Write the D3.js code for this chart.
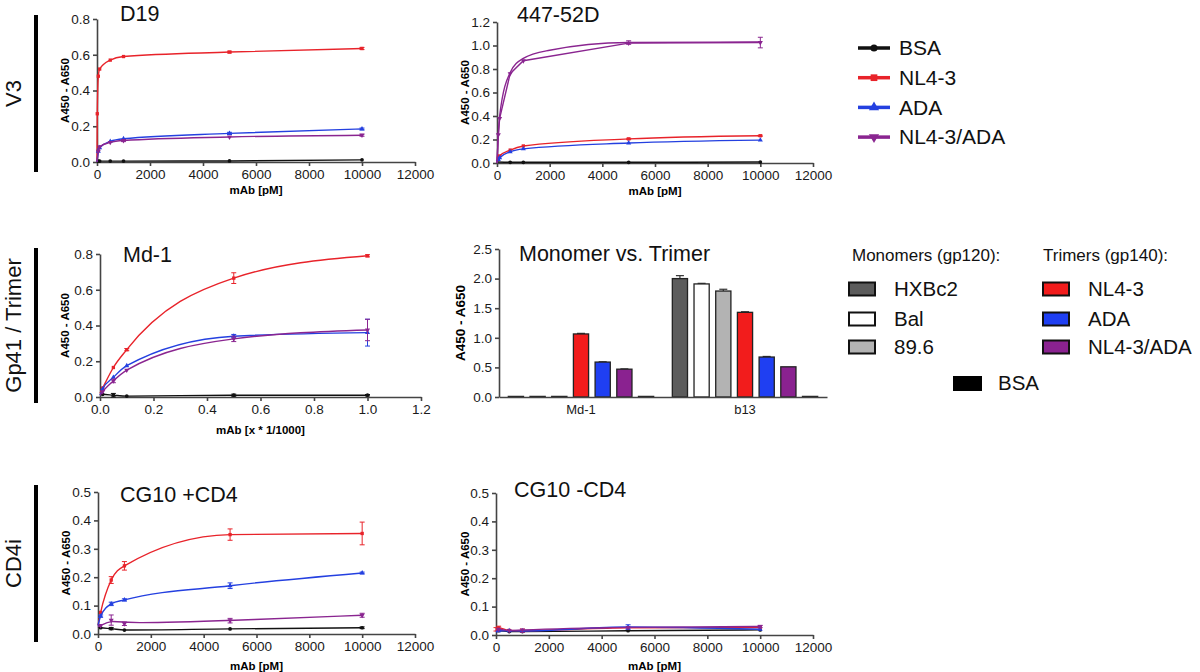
<!DOCTYPE html>
<html>
<head>
<meta charset="utf-8">
<script src="https://cdn.jsdelivr.net/npm/d3@7"></script>
<style>
  body { margin: 0; background: #fff; }
  svg { font-family: "Liberation Sans", Arial, sans-serif; }
</style>
</head>
<body>
<svg id="chart" width="1200" height="672"></svg>
<script>
// ---- data ----
const seriesNames = ["BSA", "NL4-3", "ADA", "NL4-3/ADA"];
const seriesColors = ["#111111", "#e8232a", "#2440e0", "#8a2590"];
const pmTicks = [0, 2000, 4000, 6000, 8000, 10000, 12000];
const mdTicks = [0, 0.2, 0.4, 0.6, 0.8, 1.0, 1.2];

// [x, y, err]
const d19Bsa = [[0, 0.004, 0], [50, 0.005, 0], [100, 0.005, 0], [500, 0.005, 0], [1000, 0.005, 0], [5000, 0.006, 0], [10000, 0.012, 0]];
const d19Nl43 = [[0, 0, 0], [10, 0.27, 0], [50, 0.48, 0], [100, 0.52, 0], [500, 0.57, 0], [1000, 0.59, 0], [5000, 0.615, 0.005], [10000, 0.635, 0.006]];
const d19Ada = [[0, 0, 0], [50, 0.06, 0], [100, 0.08, 0], [500, 0.115, 0], [1000, 0.13, 0], [5000, 0.16, 0.006], [10000, 0.185, 0.005]];
const d19Mix = [[0, 0, 0], [50, 0.06, 0], [100, 0.085, 0], [500, 0.11, 0], [1000, 0.12, 0.006], [5000, 0.14, 0], [10000, 0.15, 0.006]];

const p447Bsa = [[0, 0.008, 0], [500, 0.006, 0], [1000, 0.006, 0], [5000, 0.006, 0], [10000, 0.008, 0]];
const p447Nl43 = [[0, 0, 0], [50, 0.04, 0], [100, 0.06, 0], [500, 0.11, 0], [1000, 0.145, 0], [5000, 0.205, 0.006], [10000, 0.232, 0.005]];
const p447Ada = [[0, 0, 0], [50, 0.03, 0], [100, 0.045, 0], [500, 0.095, 0], [1000, 0.12, 0], [5000, 0.17, 0], [10000, 0.195, 0]];
const p447Mix = [[0, 0, 0], [50, 0.24, 0], [100, 0.38, 0], [500, 0.76, 0], [1000, 0.87, 0], [5000, 1.02, 0], [10000, 1.025, 0.045]];
const p447MixFit = [[0, 0, 0], [100, 0.4, 0], [500, 0.77, 0], [1000, 0.89, 0], [2000, 0.96, 0], [5000, 1.025, 0.015], [10000, 1.03, 0]];

const md1Bsa = [[0, 0.015, 0], [0.01, 0.015, 0], [0.05, 0.01, 0.01], [0.1, 0.005, 0], [0.5, 0.01, 0.006], [1.0, 0.01, 0.004]];
const md1Nl43 = [[0, 0.02, 0], [0.01, 0.05, 0], [0.05, 0.165, 0], [0.1, 0.265, 0.006], [0.5, 0.665, 0.03], [1.0, 0.79, 0.006]];
const md1Ada = [[0, 0.01, 0], [0.01, 0.045, 0], [0.05, 0.11, 0], [0.1, 0.175, 0], [0.5, 0.34, 0.01], [1.0, 0.36, 0.075]];
const md1Mix = [[0, 0.01, 0], [0.01, 0.03, 0], [0.05, 0.09, 0.01], [0.1, 0.15, 0], [0.5, 0.325, 0.015], [1.0, 0.375, 0.06]];

const cdPlusBsa = [[0, 0.025, 0], [100, 0.022, 0], [500, 0.019, 0.004], [1000, 0.014, 0], [5000, 0.018, 0], [10000, 0.022, 0.003]];
const cdPlusNl43 = [[0, 0.03, 0], [100, 0.076, 0], [500, 0.19, 0.012], [1000, 0.24, 0.015], [5000, 0.35, 0.02], [10000, 0.354, 0.04]];
const cdPlusAda = [[0, 0.03, 0], [100, 0.063, 0.004], [500, 0.106, 0.006], [1000, 0.12, 0.004], [5000, 0.17, 0.01], [10000, 0.215, 0.003]];
const cdPlusMix = [[0, 0.025, 0], [100, 0.03, 0], [500, 0.049, 0.018], [1000, 0.036, 0.006], [5000, 0.047, 0.008], [10000, 0.066, 0.007]];

const cdMinusBsa = [[0, 0.01, 0], [100, 0.015, 0], [500, 0.012, 0], [1000, 0.012, 0], [5000, 0.015, 0], [10000, 0.018, 0]];
const cdMinusNl43 = [[0, 0.02, 0.006], [100, 0.025, 0.006], [500, 0.016, 0], [1000, 0.015, 0.006], [5000, 0.025, 0], [10000, 0.026, 0]];
const cdMinusAda = [[0, 0.01, 0], [100, 0.015, 0], [500, 0.015, 0], [1000, 0.014, 0], [5000, 0.028, 0.008], [10000, 0.02, 0]];
const cdMinusMix = [[0, 0.015, 0], [100, 0.02, 0], [500, 0.016, 0], [1000, 0.018, 0], [5000, 0.027, 0], [10000, 0.03, 0.004]];

// bar chart
const barGroups = ["Md-1", "b13"];
const barNames = ["HXBc2", "Bal", "89.6", "NL4-3", "ADA", "NL4-3/ADA", "BSA"];
const barColors = ["#5c5c5c", "#ffffff", "#b3b3b3", "#f21c1c", "#1f3ff2", "#8a2290", "#000000"];
const md1Bars = [0.01, 0.01, 0.01, 1.065, 0.59, 0.47, 0.01];
const md1BarErr = [0, 0, 0, 0.01, 0.005, 0.005, 0];
const b13Bars = [2.0, 1.91, 1.79, 1.43, 0.675, 0.51, 0.01];
const b13BarErr = [0.05, 0.01, 0.03, 0.01, 0.01, 0, 0];
const barTicks = [0, 0.5, 1.0, 1.5, 2.0, 2.5];

const svg = d3.select("#chart");
const axisColor = "#444";
const markerTypes = [d3.symbolCircle, d3.symbolSquare, d3.symbolTriangle, d3.symbolTriangle];

function styleAxis(g) {
    g.selectAll("path, line").attr("stroke", axisColor).attr("stroke-width", 1.6);
    g.selectAll("text").attr("fill", "#1a1a1a").style("font-size", "13.5px");
}

function addYLabel(x, y, size) {
    svg.append("text")
        .attr("transform", `translate(${x},${y}) rotate(-90)`)
        .attr("text-anchor", "middle").attr("dy", "0.35em")
        .style("font-size", size).style("font-weight", "bold")
        .text("A450 - A650");
}

function drawAxes(p, x, y) {
    const gx = svg.append("g").attr("transform", `translate(0,${p.yBot})`)
        .call(d3.axisBottom(x).tickValues(p.xTicks).tickFormat(p.xFormat).tickSize(4).tickSizeOuter(0));
    styleAxis(gx);
    const gy = svg.append("g").attr("transform", `translate(${p.x0},0)`)
        .call(d3.axisLeft(y).tickValues(p.yTicks).tickFormat(d3.format(".1f")).tickSize(4).tickSizeOuter(0));
    styleAxis(gy);

    svg.append("text")
        .attr("x", p.titleX).attr("y", p.titleY)
        .style("font-size", "21.5px").attr("fill", "#111")
        .text(p.title);

    addYLabel(p.yLabelX, (p.yTop + p.yBot) / 2, "11.5px");

    svg.append("text")
        .attr("x", (p.x0 + p.x1) / 2).attr("y", p.xLabelY)
        .attr("text-anchor", "middle")
        .style("font-size", "11.5px").style("font-weight", "bold")
        .text(p.xLabel);
}

function drawCurvePanel(p) {
    const x = d3.scaleLinear().domain([0, p.xMax]).range([p.x0, p.x1]);
    const y = d3.scaleLinear().domain([0, p.yMax]).range([p.yBot, p.yTop]);
    drawAxes(p, x, y);

    p.series.forEach(s => {
        const color = seriesColors[s.idx];
        const curve = s.curve || d3.curveMonotoneX;
        const line = d3.line().x(d => x(d[0])).y(d => y(d[1])).curve(curve);
        const g = svg.append("g");
        g.append("path").datum(s.data)
            .attr("d", line)
            .attr("fill", "none").attr("stroke", color).attr("stroke-width", 1.4);

        s.data.filter(d => d[2] > 0).forEach(d => {
            const cx = x(d[0]);
            g.append("line").attr("x1", cx).attr("x2", cx)
                .attr("y1", y(d[1] - d[2])).attr("y2", y(d[1] + d[2]))
                .attr("stroke", color).attr("stroke-width", 1);
            [d[1] - d[2], d[1] + d[2]].forEach(v => {
                g.append("line").attr("x1", cx - 2.5).attr("x2", cx + 2.5)
                    .attr("y1", y(v)).attr("y2", y(v))
                    .attr("stroke", color).attr("stroke-width", 1);
            });
        });

        if (!s.noMarkers) {
            g.selectAll("path.m").data(s.data.filter(d => d[0] > 0)).enter()
                .append("path").attr("class", "m")
                .attr("d", d3.symbol().type(markerTypes[s.idx]).size(11))
                .attr("transform", d => `translate(${x(d[0])},${y(d[1])})` + (s.idx === 3 ? " rotate(180)" : ""))
                .attr("fill", color);
        }
    });
}

function drawBarPanel(p) {
    const x = d3.scaleBand().domain(barGroups).range([p.x0, p.x1]);
    const xi = d3.scaleBand().domain(barNames).range([0, x.bandwidth()]).paddingInner(0.3).paddingOuter(0.43);
    const y = d3.scaleLinear().domain([0, p.yMax]).range([p.yBot, p.yTop]);

    const groupValues = [md1Bars, b13Bars];
    const groupErr = [md1BarErr, b13BarErr];

    groupValues.forEach((vals, gi) => {
        const g = svg.append("g").attr("transform", `translate(${x(barGroups[gi])},0)`);
        vals.forEach((v, i) => {
            const bx = xi(barNames[i]);
            const err = groupErr[gi][i];
            if (err > 0) {
                const cx = bx + xi.bandwidth() / 2;
                g.append("line").attr("x1", cx).attr("x2", cx)
                    .attr("y1", y(v)).attr("y2", y(v + err))
                    .attr("stroke", "#333").attr("stroke-width", 1.2);
                g.append("line").attr("x1", cx - 4).attr("x2", cx + 4)
                    .attr("y1", y(v + err)).attr("y2", y(v + err))
                    .attr("stroke", "#333").attr("stroke-width", 1.2);
            }
            g.append("rect")
                .attr("x", bx).attr("width", xi.bandwidth())
                .attr("y", y(v)).attr("height", y(0) - y(v))
                .attr("fill", barColors[i])
                .attr("stroke", "#222").attr("stroke-width", 1.3);
        });
    });

    const gx = svg.append("g").attr("transform", `translate(0,${p.yBot})`)
        .call(d3.axisBottom(x).tickSize(0).tickSizeOuter(0).tickPadding(8));
    styleAxis(gx);
    gx.selectAll("text").style("font-size", "13px");
    const gy = svg.append("g").attr("transform", `translate(${p.x0},0)`)
        .call(d3.axisLeft(y).tickValues(barTicks).tickFormat(d3.format(".1f")).tickSize(4).tickSizeOuter(0));
    styleAxis(gy);

    svg.append("text")
        .attr("x", p.titleX).attr("y", p.titleY)
        .style("font-size", "21.5px").attr("fill", "#111")
        .text(p.title);
    addYLabel(p.yLabelX, (p.yTop + p.yBot) / 2, "13.5px");
}

const pmFormat = d3.format("d");
const mdFormat = d3.format(".1f");
const y08 = [0, 0.2, 0.4, 0.6, 0.8];
const y12 = [0, 0.2, 0.4, 0.6, 0.8, 1.0, 1.2];
const y05 = [0, 0.1, 0.2, 0.3, 0.4, 0.5];

drawCurvePanel({
    x0: 97, x1: 415, yTop: 19, yBot: 162, xMax: 12000, yMax: 0.8,
    xTicks: pmTicks, xFormat: pmFormat, yTicks: y08,
    title: "D19", titleX: 120, titleY: 21, yLabelX: 65, xLabel: "mAb [pM]", xLabelY: 194,
    series: [
        { idx: 0, data: d19Bsa }, { idx: 1, data: d19Nl43 },
        { idx: 2, data: d19Ada }, { idx: 3, data: d19Mix }
    ]
});

drawCurvePanel({
    x0: 497, x1: 813, yTop: 22, yBot: 163, xMax: 12000, yMax: 1.2,
    xTicks: pmTicks, xFormat: pmFormat, yTicks: y12,
    title: "447-52D", titleX: 517, titleY: 22, yLabelX: 465, xLabel: "mAb [pM]", xLabelY: 195,
    series: [
        { idx: 0, data: p447Bsa }, { idx: 1, data: p447Nl43 },
        { idx: 2, data: p447Ada }, { idx: 3, data: p447Mix, curve: d3.curveLinear },
        { idx: 3, data: p447MixFit, noMarkers: true }
    ]
});

drawCurvePanel({
    x0: 100, x1: 421, yTop: 254, yBot: 397, xMax: 1.2, yMax: 0.8,
    xTicks: mdTicks, xFormat: mdFormat, yTicks: y08,
    title: "Md-1", titleX: 123, titleY: 262, yLabelX: 65, xLabel: "mAb [x * 1/1000]", xLabelY: 434,
    series: [
        { idx: 0, data: md1Bsa }, { idx: 1, data: md1Nl43 },
        { idx: 2, data: md1Ada }, { idx: 3, data: md1Mix }
    ]
});

drawBarPanel({
    x0: 499, x1: 827, yTop: 249, yBot: 397, yMax: 2.5,
    title: "Monomer vs. Trimer", titleX: 519, titleY: 261, yLabelX: 460
});

drawCurvePanel({
    x0: 98, x1: 415, yTop: 492, yBot: 634, xMax: 12000, yMax: 0.5,
    xTicks: pmTicks, xFormat: pmFormat, yTicks: y05,
    title: "CG10 +CD4", titleX: 120, titleY: 502, yLabelX: 66, xLabel: "mAb [pM]", xLabelY: 670,
    series: [
        { idx: 0, data: cdPlusBsa }, { idx: 1, data: cdPlusNl43 },
        { idx: 2, data: cdPlusAda }, { idx: 3, data: cdPlusMix, curve: d3.curveBasis }
    ]
});

drawCurvePanel({
    x0: 496, x1: 813, yTop: 493, yBot: 635, xMax: 12000, yMax: 0.5,
    xTicks: pmTicks, xFormat: pmFormat, yTicks: y05,
    title: "CG10 -CD4", titleX: 514, titleY: 497, yLabelX: 465, xLabel: "mAb [pM]", xLabelY: 670,
    series: [
        { idx: 0, data: cdMinusBsa }, { idx: 1, data: cdMinusNl43 },
        { idx: 2, data: cdMinusAda }, { idx: 3, data: cdMinusMix }
    ]
});

// ---- row labels with black bars ----
const rowLabels = ["V3", "Gp41 / Trimer", "CD4i"];
const rowSpans = [[15, 172], [248, 403], [485, 642]];
rowLabels.forEach((lab, i) => {
    const [a, b] = rowSpans[i];
    svg.append("rect").attr("x", 34).attr("y", a).attr("width", 4).attr("height", b - a).attr("fill", "#000");
    svg.append("text")
        .attr("transform", `translate(13,${(a + b) / 2}) rotate(-90)`)
        .attr("text-anchor", "middle").attr("dy", "0.35em")
        .style("font-size", "22px").attr("fill", "#111")
        .text(lab);
});

// ---- legend for curve panels ----
const leg1 = svg.append("g");
seriesNames.forEach((name, i) => {
    const yy = 48 + i * 29.7;
    leg1.append("line").attr("x1", 858).attr("x2", 890).attr("y1", yy).attr("y2", yy)
        .attr("stroke", seriesColors[i]).attr("stroke-width", 3.5);
    leg1.append("path")
        .attr("d", d3.symbol().type(markerTypes[i]).size(i === 0 ? 40 : 45))
        .attr("transform", `translate(874,${yy})` + (i === 3 ? " rotate(180)" : ""))
        .attr("fill", seriesColors[i]);
    leg1.append("text").attr("x", 899).attr("y", yy).attr("dy", "0.35em")
        .style("font-size", "21px").attr("fill", "#111").text(name);
});

// ---- legend for bar chart ----
const leg2 = svg.append("g");
leg2.append("text").attr("x", 852).attr("y", 261).style("font-size", "17px").attr("fill", "#111").text("Monomers (gp120):");
leg2.append("text").attr("x", 1043).attr("y", 261).style("font-size", "17px").attr("fill", "#111").text("Trimers (gp140):");
const legRows = [289, 319, 347];
barNames.forEach((name, i) => {
    if (i === 6) return;
    const col = i < 3 ? 0 : 1;
    const row = i % 3;
    const sx = col === 0 ? 849 : 1043;
    const yy = legRows[row];
    leg2.append("rect").attr("x", sx).attr("y", yy - 6.5).attr("width", 26).attr("height", 13)
        .attr("fill", barColors[i]).attr("stroke", "#111").attr("stroke-width", 2);
    leg2.append("text").attr("x", sx + 45).attr("y", yy).attr("dy", "0.35em")
        .style("font-size", "20.5px").attr("fill", "#111").text(name);
});
leg2.append("rect").attr("x", 953).attr("y", 376).attr("width", 29).attr("height", 15).attr("fill", barColors[6]);
leg2.append("text").attr("x", 998).attr("y", 383).attr("dy", "0.35em")
    .style("font-size", "20.5px").attr("fill", "#111").text("BSA");
</script>
</body>
</html>
